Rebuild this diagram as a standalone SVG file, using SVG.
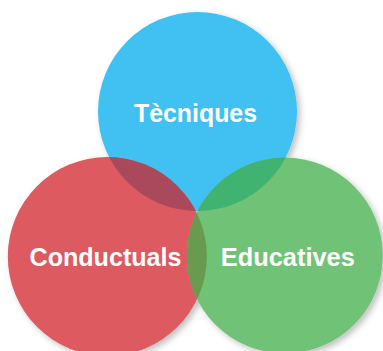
<svg xmlns="http://www.w3.org/2000/svg" width="383" height="351" viewBox="0 0 383 351">
  <style>
    .lbl { font-family: "Liberation Sans", Arial, sans-serif; font-weight: bold; font-size: 26px; fill: #ffffff; text-anchor: middle; }
  </style>
  <defs>
    <filter id="shadow" x="-10%" y="-10%" width="125%" height="125%">
      <feDropShadow dx="3" dy="3" stdDeviation="3" flood-color="#000000" flood-opacity="0.25"/>
    </filter>
    <clipPath id="clipBlue"><circle cx="197.5" cy="111.5" r="99.5"/></clipPath>
    <clipPath id="clipRed"><circle cx="107.3" cy="256.5" r="99.5"/></clipPath>
  </defs>
  <rect width="383" height="351" fill="#ffffff"/>
  <g filter="url(#shadow)">
    <g id="tecniques">
      <circle cx="197.5" cy="111.5" r="99.5" fill="#41C1F1"/>
    </g>
    <g id="conductuals">
      <circle cx="107.3" cy="256.5" r="99.5" fill="#DC5A60"/>
    </g>
    <g id="educatives">
      <circle cx="284.8" cy="255.5" r="98" fill="#6FC277"/>
    </g>
    <g id="overlaps">
      <circle cx="107.3" cy="256.5" r="99.5" fill="#AA4A5B" clip-path="url(#clipBlue)"/>
      <circle cx="284.8" cy="255.5" r="98" fill="#40B371" clip-path="url(#clipBlue)"/>
      <circle cx="284.8" cy="255.5" r="98" fill="#689A50" clip-path="url(#clipRed)"/>
    </g>
  </g>
  <g id="labels">
    <text class="lbl" x="195.5" y="122" textLength="123" lengthAdjust="spacingAndGlyphs">Tècniques</text>
    <text class="lbl" x="105.5" y="266" textLength="152" lengthAdjust="spacingAndGlyphs">Conductuals</text>
    <text class="lbl" x="287.8" y="266" textLength="134" lengthAdjust="spacingAndGlyphs">Educatives</text>
  </g>
</svg>
